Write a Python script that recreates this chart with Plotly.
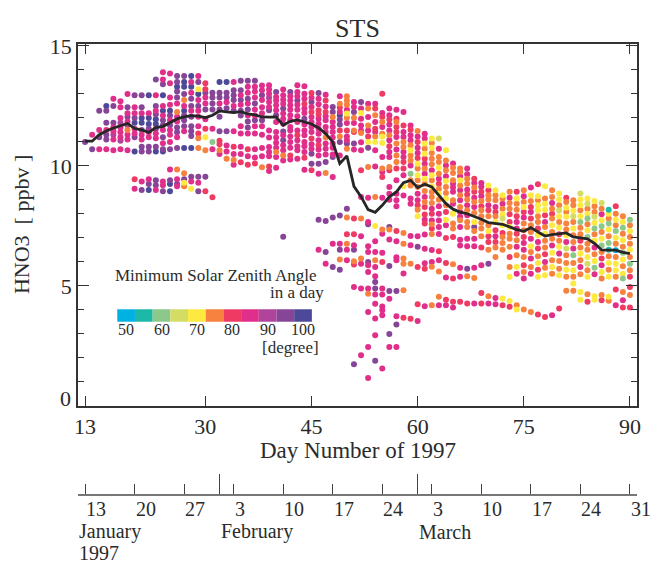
import plotly.graph_objects as go

FONT = "Liberation Serif"
TXT = "#2b2b2b"

# ---------------- data ----------------
day_numbers = list(range(13, 91))

# HNO3 (ppbv) observations, one list per day (day 13 .. 90)
hno3_by_day = [
    [11.0],
    [11.3, 10.7],
    [12.3, 11.5, 11.2, 10.7],
    [12.5, 12.3, 11.8, 11.5, 11.3, 11.1, 10.7],
    [12.8, 12.5, 11.8, 11.6, 11.45, 11.3, 11.1, 10.65],
    [12.7, 12.45, 12.0, 11.8, 11.6, 11.4, 11.2, 11.05, 10.7],
    [13.0, 12.45, 12.2, 12.05, 11.85, 11.7, 11.5, 11.3, 11.1, 10.65],
    [12.95, 12.45, 12.2, 12.0, 11.8, 11.55, 11.35, 11.2, 10.6, 9.45, 9.05],
    [12.95, 12.45, 12.2, 12.0, 11.8, 11.5, 11.3, 11.1, 10.8, 10.6, 9.35, 9.0],
    [12.95, 12.2, 12.0, 11.75, 11.55, 11.4, 11.2, 10.8, 10.6, 9.45, 9.25, 9.0],
    [13.6, 12.95, 12.5, 12.3, 12.15, 11.95, 11.75, 11.55, 11.35, 11.15, 10.8, 10.6, 9.4, 9.2, 9.0],
    [13.9, 13.6, 13.4, 12.95, 12.5, 12.3, 12.1, 11.9, 11.7, 11.5, 11.2, 10.95, 10.7, 10.6, 9.35, 9.2, 8.95],
    [13.85, 13.45, 12.85, 12.55, 12.3, 12.1, 11.9, 11.7, 11.5, 11.3, 11.0, 10.7, 9.85, 9.4, 9.25, 8.95],
    [13.75, 13.5, 13.3, 13.1, 12.85, 12.6, 12.25, 12.05, 11.85, 11.6, 11.4, 11.2, 10.75, 9.85, 9.45, 9.25, 9.15],
    [13.75, 13.5, 13.3, 13.0, 12.75, 12.5, 12.3, 12.1, 11.9, 11.65, 11.45, 10.75, 9.7, 9.45, 9.3, 9.15],
    [13.75, 13.5, 13.3, 13.05, 12.8, 12.5, 12.3, 12.05, 11.65, 11.45, 11.25, 10.75, 9.55, 9.35, 9.05],
    [13.75, 13.5, 13.2, 13.0, 12.75, 12.5, 12.3, 12.05, 11.65, 11.35, 11.15, 10.75, 9.55, 9.3, 8.95],
    [13.45, 13.2, 13.05, 12.85, 12.6, 12.35, 11.95, 11.55, 11.2, 10.65, 9.55, 8.95],
    [13.05, 12.85, 12.6, 12.35, 11.55, 11.0, 10.7, 8.7],
    [13.5, 13.05, 12.85, 12.6, 12.35, 12.05, 11.45, 11.05, 10.9, 10.65, 10.5],
    [13.5, 13.05, 12.85, 12.65, 12.4, 11.45, 10.85, 10.6, 10.3],
    [13.5, 13.15, 12.95, 12.75, 12.5, 12.3, 11.45, 10.8, 10.5, 10.25, 10.05],
    [13.55, 13.15, 12.95, 12.75, 12.55, 12.3, 12.1, 11.65, 11.35, 10.8, 10.5, 10.15],
    [13.55, 13.3, 13.05, 12.8, 12.6, 12.35, 12.1, 11.85, 11.6, 11.35, 10.7, 10.4, 10.05],
    [13.55, 13.3, 13.1, 12.85, 12.6, 12.35, 12.1, 11.9, 11.65, 11.35, 10.7, 10.35, 10.1],
    [13.35, 13.15, 12.95, 12.75, 12.45, 12.2, 11.9, 11.65, 11.3, 10.75, 10.4, 9.95],
    [13.36, 13.18, 13.01, 12.84, 12.66, 12.46, 12.32, 11.48, 11.18, 10.79, 10.58, 10.4, 9.98, 9.79],
    [13.08, 12.87, 12.73, 12.53, 12.32, 12.11, 11.83, 11.41, 11.18, 10.97, 10.76, 10.58, 10.37, 9.93],
    [13.18, 12.94, 12.76, 12.59, 12.39, 12.18, 11.97, 11.76, 11.44, 11.28, 11.07, 10.86, 10.65, 10.44, 10.23, 7.05],
    [13.08, 12.9, 12.73, 12.53, 12.34, 12.11, 11.9, 11.62, 11.48, 11.23, 11.0, 10.76, 10.44, 10.27],
    [13.36, 13.08, 12.9, 12.73, 12.55, 12.34, 12.07, 11.83, 11.48, 11.28, 11.07, 10.82, 10.65, 10.3],
    [13.32, 13.01, 12.8, 12.59, 12.39, 12.21, 11.97, 11.73, 11.48, 11.28, 11.0, 10.82, 10.58, 10.34, 9.84],
    [13.04, 12.84, 12.66, 12.46, 12.25, 12.04, 11.83, 11.62, 11.41, 11.14, 10.9, 10.72, 10.51, 10.09, 9.82],
    [13.04, 12.8, 12.57, 12.32, 12.14, 11.97, 11.76, 11.55, 11.34, 11.07, 10.86, 10.68, 10.44, 10.09, 9.68, 7.76, 6.51],
    [12.97, 12.73, 12.48, 12.25, 12.07, 11.9, 11.62, 11.41, 11.18, 10.93, 10.72, 10.48, 10.16, 9.71, 7.71, 6.42, 5.93],
    [12.46, 12.25, 12.04, 11.83, 11.62, 11.41, 11.18, 10.93, 10.76, 10.48, 10.37, 9.54, 7.85, 6.76, 5.79],
    [12.9, 12.59, 12.43, 12.25, 12.11, 11.93, 11.73, 11.48, 11.23, 11.0, 10.44, 7.94, 6.76, 6.51, 6.1, 5.68],
    [12.9, 12.73, 12.55, 12.34, 12.18, 12.01, 11.79, 11.48, 11.23, 11.07, 10.93, 10.72, 8.22, 7.85, 7.15, 6.76, 6.51, 6.07],
    [12.66, 12.46, 12.25, 12.01, 11.79, 11.48, 11.41, 10.93, 10.68, 7.81, 7.15, 6.7, 6.51, 6.03, 5.89, 4.96, 1.74],
    [12.66, 12.39, 12.21, 11.97, 11.69, 11.48, 11.37, 10.99, 10.65, 9.82, 8.71, 7.81, 7.07, 6.14, 5.93, 4.89, 2.11],
    [12.59, 12.39, 12.04, 11.69, 11.48, 11.23, 11.0, 10.76, 9.96, 8.68, 7.67, 7.57, 6.65, 6.42, 6.0, 5.86, 5.58, 4.89, 4.68, 3.92, 2.46, 1.17],
    [12.59, 12.39, 12.11, 11.83, 11.55, 11.41, 11.23, 11.0, 10.65, 9.98, 8.71, 7.5, 6.86, 6.42, 6.07, 5.79, 5.4, 5.17, 4.89, 4.65, 4.26, 3.64, 2.95, 1.88],
    [13.01, 12.21, 12.04, 11.83, 11.62, 11.34, 11.23, 10.96, 10.37, 9.89, 9.75, 9.54, 8.68, 7.35, 7.18, 6.38, 6.0, 4.89, 4.65, 4.15, 3.99, 3.78, 1.56],
    [12.39, 12.11, 11.93, 11.73, 11.48, 11.28, 11.07, 10.82, 10.58, 10.37, 9.96, 9.82, 9.12, 8.84, 8.59, 7.46, 7.35, 6.94, 5.83, 4.79, 4.47, 3.0, 2.46],
    [12.34, 11.97, 11.83, 11.62, 11.41, 11.21, 10.93, 10.68, 10.44, 10.16, 9.89, 9.4, 8.84, 8.57, 8.32, 7.29, 6.86, 6.2, 6.07, 4.79, 3.74, 3.4, 2.46],
    [12.25, 11.69, 11.41, 11.21, 11.0, 10.79, 10.58, 10.37, 10.16, 9.89, 9.61, 9.15, 8.77, 7.21, 6.76, 6.14, 5.93, 5.52, 4.82, 3.68],
    [11.69, 11.51, 11.28, 11.07, 10.86, 10.65, 10.44, 10.23, 10.02, 9.68, 9.4, 9.19, 8.64, 8.43, 7.08, 6.7, 5.93, 3.63],
    [11.46, 11.23, 11.0, 10.76, 10.54, 10.33, 10.09, 9.89, 9.61, 9.4, 9.12, 8.84, 8.57, 8.36, 8.18, 7.9, 7.07, 6.63, 5.79, 4.24, 3.54],
    [11.34, 11.14, 10.93, 10.72, 10.51, 10.3, 10.09, 9.89, 9.68, 9.47, 9.26, 8.96, 8.71, 8.5, 8.29, 7.98, 7.76, 7.6, 7.14, 6.55, 5.95, 5.72, 4.16],
    [11.14, 10.96, 10.76, 10.54, 10.3, 10.07, 9.82, 9.61, 9.4, 9.15, 8.91, 8.71, 8.46, 8.22, 8.01, 7.73, 7.57, 7.39, 7.16, 6.5, 6.0, 5.8, 4.2],
    [11.14, 10.72, 10.37, 10.16, 9.93, 9.68, 9.47, 9.26, 9.05, 8.84, 8.59, 8.32, 8.01, 7.73, 7.46, 7.16, 6.45, 6.07, 5.6, 4.55, 4.2],
    [10.65, 10.23, 10.02, 9.82, 9.57, 9.37, 9.12, 8.87, 8.64, 8.36, 8.08, 7.76, 7.53, 7.0, 5.96, 5.35, 4.43, 4.2],
    [10.1, 9.93, 9.71, 9.4, 9.26, 9.1, 8.92, 8.57, 8.43, 8.01, 7.6, 7.39, 7.04, 5.9, 5.31, 4.34, 4.1],
    [9.89, 9.75, 9.57, 9.4, 9.19, 8.99, 8.78, 8.57, 8.29, 8.08, 7.88, 7.74, 7.46, 6.93, 6.69, 5.76, 5.38, 4.34],
    [9.89, 9.65, 9.47, 9.26, 9.01, 8.81, 8.6, 8.36, 8.15, 7.95, 7.67, 7.46, 6.97, 6.65, 5.72, 5.4, 4.27],
    [9.47, 9.29, 9.1, 8.92, 8.68, 8.5, 8.29, 8.04, 7.67, 7.46, 7.29, 6.97, 6.65, 5.76, 5.33, 4.27],
    [9.29, 9.13, 8.92, 8.74, 8.54, 8.32, 8.15, 7.9, 7.63, 7.39, 7.07, 6.6, 5.86, 4.71, 4.27],
    [9.19, 8.99, 8.78, 8.6, 8.36, 8.15, 7.9, 7.53, 7.29, 7.07, 6.83, 6.51, 5.93, 4.57, 4.27],
    [8.99, 8.78, 8.57, 8.29, 8.08, 7.9, 7.67, 7.32, 7.07, 6.83, 6.6, 6.21, 4.5, 4.24],
    [8.78, 8.64, 8.43, 8.22, 7.99, 7.81, 7.53, 7.21, 7.04, 6.79, 6.51, 4.48, 4.2],
    [8.92, 8.68, 8.46, 8.22, 7.99, 7.67, 7.46, 7.18, 6.97, 6.63, 6.21, 5.79, 5.38, 4.37, 4.13],
    [8.92, 8.64, 8.43, 8.18, 7.9, 7.67, 7.39, 7.18, 6.9, 6.63, 6.28, 5.79, 5.51, 4.2, 4.02],
    [8.99, 8.74, 8.5, 8.29, 8.08, 7.85, 7.6, 7.32, 7.04, 6.79, 6.51, 6.21, 5.86, 5.58, 5.31, 4.02],
    [9.1, 8.78, 8.54, 8.29, 8.08, 7.81, 7.53, 7.25, 6.97, 6.65, 6.42, 6.14, 5.79, 5.51, 3.92],
    [9.24, 8.74, 8.57, 8.36, 8.15, 7.9, 7.67, 7.39, 7.11, 6.83, 6.56, 6.24, 5.96, 5.68, 5.38, 3.81],
    [9.15, 8.64, 8.43, 8.18, 7.95, 7.67, 7.46, 7.18, 6.88, 6.6, 6.32, 6.0, 5.76, 5.45, 3.71],
    [8.99, 8.71, 8.46, 8.22, 8.01, 7.81, 7.53, 7.25, 6.97, 6.69, 6.38, 6.07, 5.79, 5.51, 3.78],
    [8.85, 8.6, 8.36, 8.15, 7.9, 7.67, 7.43, 7.15, 6.88, 6.63, 6.35, 6.04, 5.72, 5.45, 4.06],
    [8.68, 8.5, 8.26, 8.08, 7.88, 7.6, 7.35, 7.11, 6.83, 6.56, 6.28, 5.96, 5.68, 5.38, 4.8],
    [8.57, 8.36, 8.13, 7.9, 7.67, 7.39, 7.11, 6.83, 6.56, 6.28, 5.96, 5.65, 5.38, 5.1, 4.8],
    [8.85, 8.6, 8.36, 8.15, 7.9, 7.67, 7.43, 7.15, 6.88, 6.6, 6.35, 6.07, 5.79, 5.49, 4.75, 4.43],
    [8.64, 8.43, 8.22, 8.01, 7.81, 7.57, 7.32, 7.04, 6.76, 6.51, 6.21, 5.93, 5.65, 5.38, 4.66, 4.34],
    [8.54, 8.32, 8.08, 7.88, 7.63, 7.39, 7.15, 6.88, 6.6, 6.32, 6.04, 5.76, 5.49, 4.57, 4.43],
    [8.46, 8.22, 7.99, 7.74, 7.49, 7.25, 6.97, 6.69, 6.42, 6.14, 5.86, 5.58, 5.31, 4.62, 4.41],
    [8.18, 8.01, 7.81, 7.6, 7.35, 7.07, 6.79, 6.51, 6.24, 5.96, 5.68, 5.38, 4.55, 4.38],
    [8.32, 8.01, 7.76, 7.53, 7.29, 7.01, 6.76, 6.49, 6.21, 5.93, 5.65, 5.38, 4.85, 4.2],
    [7.9, 7.67, 7.43, 7.18, 6.9, 6.63, 6.38, 6.1, 5.82, 5.51, 5.31, 4.75, 4.41, 4.1],
    [7.76, 7.53, 7.29, 7.04, 6.76, 6.51, 6.21, 5.93, 5.65, 5.38, 4.96, 4.62, 4.1],
]

# minimum solar zenith angle class of each observation (one letter per point)
sza_by_day = [
    "v", "mv", "vmvm", "bvvmvvm", "mvvmmpmm", "mmmpmmmpm", "mvmvmpommm",
    "vmmvbmmvbrm", "vvmbbvmmvvmv", "bmbbvmmvvmvb", "vmvmvbbvmmvbvvm",
    "mmvbmbmvvmvmvbmmv", "mmmmbvmvmmmvmvbb", "vvbvvmommvvmvomvm",
    "vbbvombvvvmbovyo", "bmbmvvmvvvvbvmy", "mvybmvmmmroovmv", "rrvmmvmryovr",
    "vvvvmgmr", "bvvmvvvrrom", "bvvmvvmmo", "mvvvmvmrmom", "vvmvmvvmmmmr",
    "vmmvmvmvvmrmr", "vmmmvmmvmmmmr", "mmvmmmvmmmmo", "mmmpmmvmmmmmrm",
    "vmmmmvmmmmmomm", "mmmmvmmmvmvmmomv", "vmmmmmmmmmmmrm", "mmmvmmmmmrmmmm",
    "mmmrmmvmmmmmmrm", "rmvmrmmmmrmmvvr", "vmmrrmmmmmrmmvmvm",
    "mrmrmmmmommmvovvm", "vvommmmmmmvmvmv", "mormbvvrovmvmvov",
    "ooomyomrmmvovoromm", "mmvomorvmrrmvormv", "vmymmmommrmomommm",
    "momomryvommvmmvmmmommm", "mromrmoymmoymmommvvmmmmv",
    "rmromoyymomrmommrmmmmmm", "mmrmmomrmmormmmvomvvmvm",
    "mrorrmomoormmmmrmmmvmvm", "mrmmoommrrmymoooomor", "mrmmoyoomgoommmmor",
    "omrmmryoyoommroymvrrm", "mmyoyrmomyoomorrmrmmmrm",
    "yoyooomyoyooomrmorommoo", "lmooyomroyommmmmrmoom", "yomomyooyorymrrmrm",
    "mooommmomyoororrm", "oomyomomommommmmmr", "mmoomromomoommvor",
    "rmormomoyvommmom", "mmrmorooooormrr", "yroomrooyrrovom",
    "yoomroyrmroomm", "yomoylyroooyr", "omoorryoooroyyr", "ryoormmromoymoy",
    "omoyrmoormmoromo", "myormroomyomomo", "ryoyyoorymroyryr", "yoyyrmoyoormoyr",
    "oomoroyoomyoyom", "yyolyoyroymooyr", "royoyooymlooyoo", "ooyloyoomgoyoyo",
    "lyyoygooroyomoyy", "yloygoygooyloyor", "yoolygoymoygmyy", "lomygoygormyoor",
    "tyogyogtoyoyyo", "royogyocoyyorm", "oygoyogyoygomr", "goyooyogorror",
]

# mean HNO3 (ppbv) per day
mean_hno3 = [
    11.03, 11.03, 11.3, 11.46, 11.58, 11.67, 11.77, 11.56, 11.5, 11.4,
    11.6, 11.65, 11.82, 11.96, 12.04, 12.1, 12.08, 12.01, 12.11, 12.29,
    12.25, 12.22, 12.26, 12.17, 12.13, 12.04, 12.03, 12.04, 11.7, 11.86,
    11.92, 11.85, 11.75, 11.58, 11.35, 11.0, 10.1, 10.42, 9.15, 8.72,
    8.18, 8.07, 8.36, 8.71, 8.92, 9.3, 9.4, 9.1, 9.24, 9.13,
    8.78, 8.43, 8.2, 8.08, 8.01, 7.9, 7.78, 7.64, 7.6, 7.57,
    7.46, 7.35, 7.28, 7.43, 7.25, 7.08, 7.14, 7.18, 7.21, 7.04,
    7.0, 6.96, 6.77, 6.5, 6.49, 6.49, 6.4, 6.35,
]

sza_code = {"c": 50, "t": 55, "g": 60, "l": 65, "y": 70, "o": 75,
            "r": 80, "m": 85, "p": 90, "v": 95, "b": 100}
sza_levels = [50, 55, 60, 65, 70, 75, 80, 85, 90, 95, 100]
sza_colors = ["#00b2e3", "#1bb9a6", "#8dc88b", "#d3dc63", "#fde93f", "#f7823f",
              "#ef3b63", "#e02f8b", "#b0449a", "#874597", "#4d4898"]
sza_label_levels = [50, 60, 70, 80, 90, 100]

x_ticks = [13, 30, 45, 60, 75, 90]
y_ticks = [0, 5, 10, 15]
date_tick_days = [13, 20, 27, 34, 41, 48, 55, 62, 69, 76, 83, 90]
date_tick_text = ["13", "20", "27", "3", "10", "17", "24", "3", "10", "17", "24", "31"]
month_start_days = [32, 60, 91]
month_names = ["January", "February", "March"]
month_label_days = [12, 32, 60]


def tfont(size):
    return dict(family=FONT, color=TXT, size=size)


# ---------------- figure ----------------
fig = go.Figure()

pts = {lvl: ([], []) for lvl in sza_levels}
for d, vals, codes in zip(day_numbers, hno3_by_day, sza_by_day):
    n = min(len(vals), len(codes))
    for v, c in zip(vals[:n], codes[:n]):
        lvl = sza_code[c]
        pts[lvl][0].append(d)
        pts[lvl][1].append(v)

for lvl, col in zip(sza_levels[::-1], sza_colors[::-1]):
    xs, ys = pts[lvl]
    if xs:
        fig.add_trace(go.Scatter(x=xs, y=ys, mode="markers",
                                 marker=dict(size=6, color=col, line=dict(width=0)),
                                 showlegend=False, name=f"{lvl}"))

fig.add_trace(go.Scatter(x=day_numbers, y=mean_hno3, mode="lines",
                         line=dict(color="#262626", width=2.8), showlegend=False))

# dummy trace to attach the calendar axis
fig.add_trace(go.Scatter(x=date_tick_days, y=[None] * len(date_tick_days),
                         xaxis="x2", yaxis="y", mode="markers",
                         showlegend=False, hoverinfo="skip"))

# colour key (in data coordinates of the main axes)
key_x0, key_w, key_y0, key_y1 = 17.55, 2.5, 3.51, 4.03
shapes = []
for i, col in enumerate(sza_colors):
    shapes.append(dict(type="rect", xref="x", yref="y",
                       x0=key_x0 + i * key_w, x1=key_x0 + (i + 1) * key_w,
                       y0=key_y0, y1=key_y1, fillcolor=col, line=dict(width=0),
                       layer="above"))

ann = []
for lvl in sza_label_levels:
    i = sza_levels.index(lvl)
    ann.append(dict(x=key_x0 + (i + 0.5) * key_w, y=3.17, xref="x", yref="y",
                    text=str(lvl), showarrow=False, font=tfont(16)))
ann.append(dict(x=17.0, y=5.45, xref="x", yref="y", xanchor="left",
                text="Minimum Solar Zenith Angle", showarrow=False, font=tfont(17)))
ann.append(dict(x=47.1, y=4.71, xref="x", yref="y", xanchor="right",
                text="in a day", showarrow=False, font=tfont(17)))
ann.append(dict(x=46.4, y=2.45, xref="x", yref="y", xanchor="right",
                text="[degree]", showarrow=False, font=tfont(17)))

# calendar labels
for d, t in zip(date_tick_days, date_tick_text):
    ann.append(dict(x=d, y=-0.031, xref="x2", yref="paper", xanchor="left",
                    yanchor="middle", text=t, showarrow=False, font=tfont(20),
                    xshift=-1))
for d, t in zip(month_label_days, month_names):
    ann.append(dict(x=d, y=-0.082, xref="x2", yref="paper", xanchor="left",
                    yanchor="middle", text=t, showarrow=False, font=tfont(20),
                    xshift=-1))
ann.append(dict(x=month_label_days[0], y=-0.128, xref="x2", yref="paper", xanchor="left",
                yanchor="middle", text="1997", showarrow=False, font=tfont(20),
                xshift=-1))

# axis titles and the zero label
ann.append(dict(x=0.5, y=0.098, xref="paper", yref="paper", xanchor="center",
                yanchor="middle", text="Day Number of 1997", showarrow=False,
                font=tfont(23)))
ann.append(dict(x=-0.100, y=0.5987, xref="paper", yref="paper", xanchor="center",
                yanchor="middle", text="HNO3  [ ppbv ]", textangle=-90,
                showarrow=False, font=tfont(22)))
ann.append(dict(x=-0.009, y=0.32, xref="paper", yref="y", xanchor="right",
                yanchor="middle", text="0", showarrow=False, font=tfont(22)))

fig.update_layout(
    width=651, height=565,
    margin=dict(l=78, r=14, t=44, b=70, autoexpand=False),
    paper_bgcolor="white", plot_bgcolor="white",
    font=dict(family=FONT, color=TXT, size=22),
    showlegend=False,
    title=dict(text="STS", x=0.5, xref="paper", xanchor="center",
               y=1 - 28 / 565, yref="container", yanchor="middle",
               font=tfont(26)),
    shapes=shapes, annotations=ann,
    xaxis=dict(range=[12, 91], tickmode="array", tickvals=x_ticks,
               ticks="inside", ticklen=10, tickwidth=1.2, tickcolor="#333",
               showline=True, linecolor="#333", linewidth=1.5, mirror="ticks",
               showgrid=False, zeroline=False, anchor="y",
               tickfont=tfont(22)),
    yaxis=dict(domain=[(495 - 406) / 451, 1], range=[0, 15.08],
               tickmode="array", tickvals=y_ticks,
               ticktext=["", "5", "10", "15"],
               ticks="inside", ticklen=11, tickwidth=1.2, tickcolor="#333",
               minor=dict(dtick=1, tick0=0, ticks="inside", ticklen=6,
                          tickcolor="#333", tickwidth=1.2),
               showline=True, linecolor="#333", linewidth=1.5, mirror="ticks",
               showgrid=False, zeroline=False, tickfont=tfont(22)),
    xaxis2=dict(range=[12, 91], overlaying="x", anchor="free", position=0,
                side="bottom", tickmode="array", tickvals=date_tick_days,
                ticks="inside", ticklen=10, tickwidth=1.2, tickcolor="#444",
                minor=dict(tickmode="array", tickvals=month_start_days,
                           ticks="inside", ticklen=20, tickwidth=1.2,
                           tickcolor="#444"),
                showticklabels=False, showline=True, linecolor="#777",
                linewidth=2, showgrid=False, zeroline=False),
)

fig.write_html("out.html")
